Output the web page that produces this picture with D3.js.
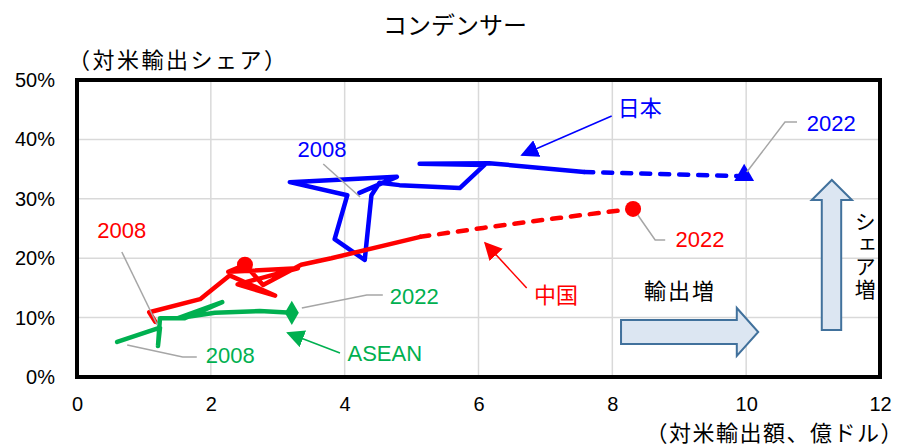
<!DOCTYPE html>
<html><head><meta charset="utf-8">
<script src="https://cdn.jsdelivr.net/npm/d3@7"></script>
<style>
html,body{margin:0;padding:0;background:#fff;}
svg{display:block;font-family:"Liberation Sans","Noto Sans CJK JP",sans-serif;}
</style></head>
<body><svg id="c" width="908" height="446"></svg>
<script>
// ---- data ----
const title = "コンデンサー";
const yTitle = "（対米輸出シェア）";
const xTitle = "（対米輸出額、億ドル）";
const xTicks = [0, 2, 4, 6, 8, 10, 12];
const yTicks = [0, 0.1, 0.2, 0.3, 0.4, 0.5];

const japanX = [4.22,4.78,3.18,4.04,3.85,4.30,4.40,4.52,4.82,5.72,6.09,5.12,6.16,7.58,9.97];
const japanY = [0.310,0.337,0.328,0.306,0.232,0.197,0.306,0.327,0.323,0.318,0.357,0.359,0.360,0.345,0.338];
const japanDashFrom = 13;

const chinaX = [1.17,1.08,1.84,2.28,2.96,2.40,3.30,2.26,2.51,2.78,3.35,3.80,5.13,6.07,7.22,8.31];
const chinaY = [0.093,0.109,0.131,0.171,0.137,0.156,0.183,0.177,0.189,0.155,0.189,0.200,0.236,0.251,0.268,0.283];
const chinaDashFrom = 12;
const chinaMidMarker = 8;

const aseanX = [0.60,1.24,1.21,1.24,1.61,2.17,1.51,2.06,2.73,3.21];
const aseanY = [0.059,0.083,0.052,0.099,0.099,0.126,0.099,0.108,0.111,0.108];

// ---- layout ----
const svg = d3.select("#c");
const x = d3.scaleLinear().domain([0, 12]).range([77, 880]);
const y = d3.scaleLinear().domain([0, 0.5]).range([377, 80]);
const font = '"Liberation Sans","Noto Sans CJK JP",sans-serif';
const jfont = '"Noto Sans CJK JP",sans-serif';
const BLUE = "#0000ff", RED = "#ff0000", GREEN = "#00b050", GRAY = "#a6a6a6";

// gridlines
svg.append("g").selectAll("line.v").data(xTicks.slice(1, -1)).join("line")
  .attr("x1", d => x(d)).attr("x2", d => x(d)).attr("y1", y(0)).attr("y2", y(0.5))
  .attr("stroke", "#d9d9d9").attr("stroke-width", 1.5);
svg.append("g").selectAll("line.h").data(yTicks.slice(1, -1)).join("line")
  .attr("x1", x(0)).attr("x2", x(12)).attr("y1", d => y(d)).attr("y2", d => y(d))
  .attr("stroke", "#d9d9d9").attr("stroke-width", 1.5);

// axes (labels only)
const yAxis = d3.axisLeft(y).tickValues(yTicks).tickFormat(d3.format(".0%")).tickSize(0).tickPadding(22);
const gy = svg.append("g").attr("transform", `translate(${x(0)},0)`).call(yAxis);
gy.select(".domain").remove();
gy.selectAll("text").attr("font-size", 20).attr("font-family", font).attr("fill", "#000");
const xAxis = d3.axisBottom(x).tickValues(xTicks).tickFormat(d3.format("d")).tickSize(0).tickPadding(20);
const gx = svg.append("g").attr("transform", `translate(0,${y(0)})`).call(xAxis);
gx.select(".domain").remove();
gx.selectAll("text").attr("font-size", 20).attr("font-family", font).attr("fill", "#000");

// titles
svg.append("text").attr("x", 455).attr("y", 34).attr("text-anchor", "middle").attr("font-family", jfont)
  .attr("font-size", 24).attr("fill", "#000").text(title);
svg.append("text").attr("x", 68).attr("y", 68).attr("font-family", jfont).attr("font-size", 22)
  .attr("letter-spacing", 2.5).attr("fill", "#000").text(yTitle);
svg.append("text").attr("x", 904).attr("y", 441).attr("text-anchor", "end").attr("font-family", jfont)
  .attr("font-size", 22).attr("letter-spacing", 1.5).attr("fill", "#000").text(xTitle);

// block arrows
const rightArrow = [[8.13,0.0960],[9.86,0.0960],[9.86,0.1162],[10.18,0.0758],[9.86,0.0354],[9.86,0.0556],[8.13,0.0556]];
const upArrow = [[11.13,0.0791],[11.13,0.2980],[10.98,0.2980],[11.28,0.3316],[11.58,0.2980],[11.42,0.2980],[11.42,0.0791]];
[rightArrow, upArrow].forEach(pts => {
  svg.append("path").attr("d", "M" + pts.map(p => [x(p[0]), y(p[1])].join(",")).join("L") + "Z")
    .attr("fill", "#dce6f2").attr("stroke", "#41719c").attr("stroke-width", 2);
});
svg.append("text").attr("x", x(9.01)).attr("y", y(0.1481)).attr("text-anchor", "middle").attr("font-family", jfont)
  .attr("dominant-baseline", "central").attr("font-size", 22).attr("letter-spacing", 2).text("輸出増");
svg.append("text").attr("x", x(11.78)).attr("y", y(0.2795)).attr("font-family", jfont)
  .attr("font-size", 21).attr("letter-spacing", 1.5)
  .style("writing-mode", "vertical-rl").text("シェア増");

// series lines
const line = d3.line().x(d => x(d[0])).y(d => y(d[1]));
const curved = d3.line().x(d => x(d[0])).y(d => y(d[1])).curve(d3.curveMonotoneX);
function drawSeries(xs, ys, color, dashFrom) {
  const pts = xs.map((v, i) => [v, ys[i]]);
  const solid = dashFrom == null ? pts : pts.slice(0, dashFrom + 1);
  svg.append("path").attr("d", line(solid)).attr("fill", "none").attr("stroke", color)
    .attr("stroke-width", 4.5).attr("stroke-linejoin", "round").attr("stroke-linecap", "round");
  if (dashFrom != null) {
    svg.append("path").attr("d", curved(pts.slice(dashFrom))).attr("fill", "none")
      .attr("stroke", color).attr("stroke-width", 4.5).attr("stroke-dasharray", "9,10").attr("stroke-linecap", "round");
  }
  return pts;
}
const jp = drawSeries(japanX, japanY, BLUE, japanDashFrom);
const cn = drawSeries(chinaX, chinaY, RED, chinaDashFrom);
const as = drawSeries(aseanX, aseanY, GREEN, null);

// markers
const last = a => a[a.length - 1];
svg.append("path").attr("d", d3.symbol(d3.symbolTriangle, 170)())
  .attr("transform", `translate(${x(last(jp)[0])},${y(last(jp)[1]) - 1})`).attr("fill", BLUE);
svg.append("circle").attr("cx", x(last(cn)[0])).attr("cy", y(last(cn)[1])).attr("r", 8).attr("fill", RED);
svg.append("circle").attr("cx", x(cn[chinaMidMarker][0])).attr("cy", y(cn[chinaMidMarker][1])).attr("r", 8).attr("fill", RED);
svg.append("path").attr("d", d3.symbol(d3.symbolDiamond, 170)())
  .attr("transform", `translate(${x(last(as)[0])},${y(last(as)[1])})`).attr("fill", GREEN);

// plot border
svg.append("rect").attr("x", x(0)).attr("y", y(0.5)).attr("width", x(12) - x(0)).attr("height", y(0) - y(0.5))
  .attr("fill", "none").attr("stroke", "#000").attr("stroke-width", 4);

// leader lines (gray)
const leaders = [
  [[3.68,0.3586],[4.23,0.3030]],
  [[10.76,0.4293],[10.58,0.4293],[10.01,0.3451]],
  [[8.79,0.2306],[8.64,0.2306],[8.38,0.2727]],
  [[0.67,0.2104],[1.20,0.0875]],
  [[4.57,0.1380],[4.33,0.1380],[3.36,0.1162]],
  [[1.79,0.0337],[1.58,0.0337],[0.75,0.0539]]
];
leaders.forEach(l => svg.append("path").attr("d", line(l)).attr("fill", "none")
  .attr("stroke", GRAY).attr("stroke-width", 1.5));

// year labels
const yearLabels = [
  ["2008", 3.66, 0.3822, BLUE], ["2022", 11.27, 0.4276, BLUE],
  ["2008", 0.67, 0.2458, RED], ["2022", 9.31, 0.2323, RED],
  ["2008", 2.29, 0.0354, GREEN], ["2022", 5.04, 0.1347, GREEN]
];
yearLabels.forEach(t => svg.append("text").attr("x", x(t[1])).attr("y", y(t[2]))
  .attr("text-anchor", "middle").attr("dominant-baseline", "central")
  .attr("font-size", 22).attr("fill", t[3]).text(t[0]));

// legend arrows + names
const defs = svg.append("defs");
[["jp", BLUE], ["cn", RED], ["as", GREEN]].forEach(([id, c]) => {
  defs.append("marker").attr("id", "ah-" + id).attr("viewBox", "0 0 10 10").attr("refX", 9).attr("refY", 5)
    .attr("markerWidth", 18).attr("markerHeight", 18).attr("markerUnits", "userSpaceOnUse").attr("orient", "auto")
    .append("path").attr("d", "M0,0L10,5L0,10Z").attr("fill", c);
});
const legendArrows = [
  ["jp", BLUE, [[7.99,0.4394],[6.65,0.3737]]],
  ["cn", RED, [[6.72,0.1498],[6.10,0.2256]]],
  ["as", GREEN, [[3.93,0.0404],[3.15,0.0741]]]
];
legendArrows.forEach(([id, c, pts]) => svg.append("path").attr("d", line(pts)).attr("fill", "none")
  .attr("stroke", c).attr("stroke-width", 1.5).attr("marker-end", `url(#ah-${id})`));
const names = [["日本", 8.41, 0.4512, BLUE], ["中国", 7.16, 0.1364, RED], ["ASEAN", 4.60, 0.0404, GREEN]];
names.forEach(t => svg.append("text").attr("x", x(t[1])).attr("y", y(t[2]))
  .attr("text-anchor", "middle").attr("dominant-baseline", "central")
  .attr("font-size", 22).attr("fill", t[3]).text(t[0]));
</script></body></html>
